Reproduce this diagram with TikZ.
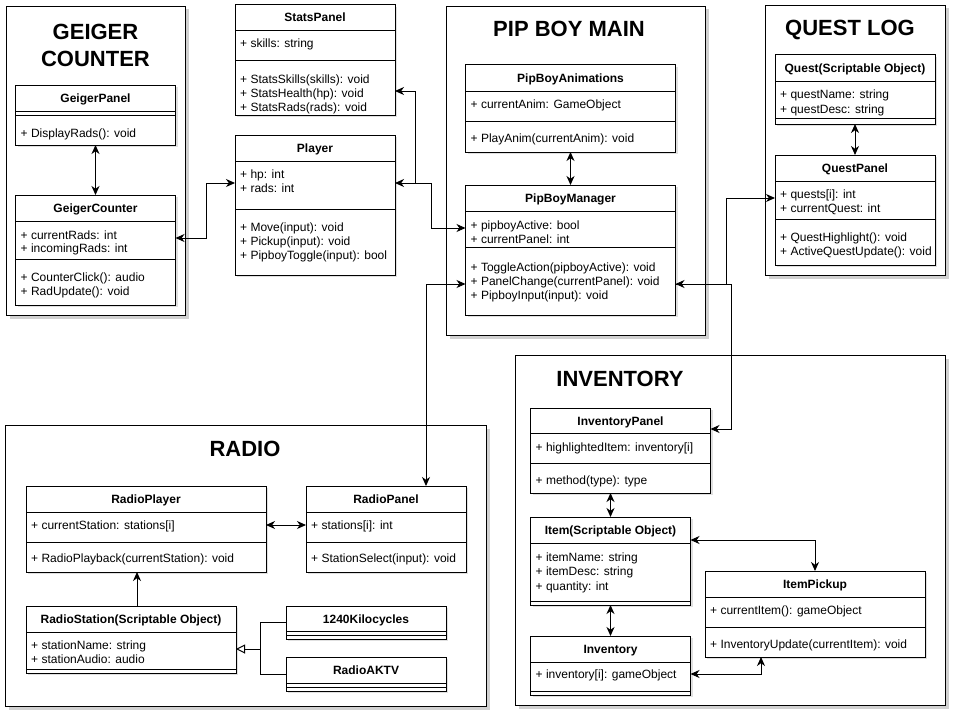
\documentclass[tikz,border=0pt]{standalone}
\usepackage{fontspec}
\setmainfont{Liberation Sans}
\usetikzlibrary{arrows.meta,shadows,calc}
\tikzset{
 cont/.style={draw, fill=white, line width=1pt, anchor=north west, inner sep=0pt,
   drop shadow={shadow xshift=3pt,shadow yshift=-3pt,opacity=0.18,fill=black}},
 cls/.style={draw, fill=white, line width=1pt, anchor=north west, inner sep=0pt, outer sep=0pt,
   drop shadow={shadow xshift=2pt,shadow yshift=-2pt,opacity=0.12,fill=black}},
 txt/.style={anchor=base west, inner sep=0pt, xshift=5pt, font=\fontsize{12}{14}\selectfont},
 hdr/.style={anchor=base, inner sep=0pt, font=\fontsize{12}{14}\selectfont\bfseries},
 ttl/.style={inner sep=0pt, align=center, font=\fontsize{22}{27}\selectfont\bfseries},
 sepl/.style={line width=1pt},
 conn/.style={line width=1pt},
 both/.style={conn, {Stealth[length=9pt,width=8pt,inset=2.8pt]}-{Stealth[length=9pt,width=8pt,inset=2.8pt]}},
 tip/.style={conn, -{Stealth[length=9pt,width=8pt,inset=2.8pt]}},
 inh/.style={conn, -{Triangle[open,length=9pt,width=9pt]}},
}
\newcommand{\umlbox}[5]{\node[cls, minimum width=#4, minimum height=#5] (#1) at (#2,#3) {};}
\newcommand{\umlhdr}[3]{\node[hdr] (#1-h) at (#1.north |- 0,#2) {#3};}
\newcommand{\umlrow}[4]{\node[txt] (#1-#2) at (#1.west |- 0,#3) {#4};}
\newcommand{\umlsep}[2]{\draw[sepl] (#1.west |- 0,#2) -- (#1.east |- 0,#2);}
\begin{document}
\begin{tikzpicture}[x=1pt,y=-1pt]
\useasboundingbox (0,0) rectangle (958,717);
\fill[white] (0,0) rectangle (958,717);

% containers
\node[cont, minimum width=179, minimum height=309] (geigerbox) at (6,6) {};
\node[cont, minimum width=259, minimum height=329] (pipbox) at (446,6) {};
\node[cont, minimum width=180, minimum height=270] (questbox) at (765,5) {};
\node[cont, minimum width=481, minimum height=281] (radiobox) at (5,425) {};
\node[cont, minimum width=430, minimum height=350] (invbox) at (515,355) {};

\node[ttl] (geigert) at (95.5,45) {GEIGER\\COUNTER};
\node[ttl] (pipt) at (569,29) {PIP BOY MAIN};
\node[ttl] (questt) at (850,30) {QUEST LOG};
\node[ttl] (radiot) at (245,449) {RADIO};
\node[ttl] (invt) at (620,379) {INVENTORY};

% GeigerPanel
\umlbox{gp}{15.5}{85}{160}{60}
\umlhdr{gp}{102}{GeigerPanel}
\umlsep{gp}{111}\umlsep{gp}{115}
\umlrow{gp}{m1}{137}{+ DisplayRads(): void}

% GeigerCounter
\umlbox{gc}{15.5}{195}{160}{110}
\umlhdr{gc}{212}{GeigerCounter}
\umlsep{gc}{221}
\umlrow{gc}{a1}{239}{+ currentRads: int}
\umlrow{gc}{a2}{252}{+ incomingRads: int}
\umlsep{gc}{259}
\umlrow{gc}{m1}{281}{+ CounterClick(): audio}
\umlrow{gc}{m2}{295}{+ RadUpdate(): void}

% StatsPanel
\umlbox{sp}{235}{5}{160}{110}
\umlhdr{sp}{22}{StatsPanel}
\umlsep{sp}{31}
\umlrow{sp}{a1}{48}{+ skills: string}
\umlsep{sp}{61}
\umlrow{sp}{m1}{83}{+ StatsSkills(skills): void}
\umlrow{sp}{m2}{97}{+ StatsHealth(hp): void}
\umlrow{sp}{m3}{111}{+ StatsRads(rads): void}

% Player
\umlbox{pl}{235}{135}{160}{140}
\umlhdr{pl}{152}{Player}
\umlsep{pl}{161}
\umlrow{pl}{a1}{178}{+ hp: int}
\umlrow{pl}{a2}{192}{+ rads: int}
\umlsep{pl}{209}
\umlrow{pl}{m1}{231}{+ Move(input): void}
\umlrow{pl}{m2}{245}{+ Pickup(input): void}
\umlrow{pl}{m3}{259}{+ PipboyToggle(input): bool}

% PipBoyAnimations
\umlbox{pa}{465.5}{65}{210}{87}
\umlhdr{pa}{82}{PipBoyAnimations}
\umlsep{pa}{91}
\umlrow{pa}{a1}{108}{+ currentAnim: GameObject}
\umlsep{pa}{121}
\umlrow{pa}{m1}{142}{+ PlayAnim(currentAnim): void}

% PipBoyManager
\umlbox{pm}{465.5}{185}{210}{130}
\umlhdr{pm}{202}{PipBoyManager}
\umlsep{pm}{211}
\umlrow{pm}{a1}{229}{+ pipboyActive: bool}
\umlrow{pm}{a2}{243}{+ currentPanel: int}
\umlsep{pm}{247}
\umlrow{pm}{m1}{271}{+ ToggleAction(pipboyActive): void}
\umlrow{pm}{m2}{285}{+ PanelChange(currentPanel): void}
\umlrow{pm}{m3}{299}{+ PipboyInput(input): void}

% Quest
\umlbox{qo}{775}{55}{160}{69}
\umlhdr{qo}{72}{Quest(Scriptable Object)}
\umlsep{qo}{81}
\umlrow{qo}{a1}{99}{+ questName: string}
\umlrow{qo}{a2}{113}{+ questDesc: string}
\umlsep{qo}{118}

% QuestPanel
\umlbox{qp}{775}{155}{160}{110}
\umlhdr{qp}{172}{QuestPanel}
\umlsep{qp}{181}
\umlrow{qp}{a1}{198}{+ quests[i]: int}
\umlrow{qp}{a2}{212}{+ currentQuest: int}
\umlsep{qp}{219}
\umlrow{qp}{m1}{241}{+ QuestHighlight(): void}
\umlrow{qp}{m2}{255}{+ ActiveQuestUpdate(): void}

% RadioPlayer
\umlbox{rp}{26}{486}{240}{86}
\umlhdr{rp}{503}{RadioPlayer}
\umlsep{rp}{512}
\umlrow{rp}{a1}{529}{+ currentStation: stations[i]}
\umlsep{rp}{542}
\umlrow{rp}{m1}{562}{+ RadioPlayback(currentStation): void}

% RadioPanel
\umlbox{rpn}{306}{486}{160}{86}
\umlhdr{rpn}{503}{RadioPanel}
\umlsep{rpn}{512}
\umlrow{rpn}{a1}{529}{+ stations[i]: int}
\umlsep{rpn}{542}
\umlrow{rpn}{m1}{562}{+ StationSelect(input): void}

% RadioStation
\umlbox{rs}{26}{606}{210}{67}
\umlhdr{rs}{623}{RadioStation(Scriptable Object)}
\umlsep{rs}{632}
\umlrow{rs}{a1}{649}{+ stationName: string}
\umlrow{rs}{a2}{663}{+ stationAudio: audio}
\umlsep{rs}{669}

% 1240Kilocycles
\umlbox{k1}{286}{606}{160}{33}
\umlhdr{k1}{623}{1240Kilocycles}
\umlsep{k1}{631}\umlsep{k1}{635}

% RadioAKTV
\umlbox{ak}{286}{657}{160}{34}
\umlhdr{ak}{674}{RadioAKTV}
\umlsep{ak}{683}\umlsep{ak}{687}

% InventoryPanel
\umlbox{ip}{530.5}{408}{180}{85}
\umlhdr{ip}{425}{InventoryPanel}
\umlsep{ip}{433}
\umlrow{ip}{a1}{451}{+ highlightedItem: inventory[i]}
\umlsep{ip}{463}
\umlrow{ip}{m1}{484}{+ method(type): type}

% Item
\umlbox{it}{530.5}{517}{160}{88}
\umlhdr{it}{534}{Item(Scriptable Object)}
\umlsep{it}{543}
\umlrow{it}{a1}{561}{+ itemName: string}
\umlrow{it}{a2}{575}{+ itemDesc: string}
\umlrow{it}{a3}{590}{+ quantity: int}
\umlsep{it}{601}

% Inventory
\umlbox{inv}{530.5}{636}{160}{59}
\umlhdr{inv}{653}{Inventory}
\umlsep{inv}{662}
\umlrow{inv}{a1}{678}{+ inventory[i]: gameObject}
\umlsep{inv}{691}

% ItemPickup
\umlbox{ipk}{705}{571}{220}{86}
\umlhdr{ipk}{588}{ItemPickup}
\umlsep{ipk}{597}
\umlrow{ipk}{a1}{614}{+ currentItem(): gameObject}
\umlsep{ipk}{627}
\umlrow{ipk}{m1}{648}{+ InventoryUpdate(currentItem): void}

% connectors
\draw[both] (gp.south) -- (gc.north);
\draw[both] (gc.east |- 0,238) -- (206,238) -- (206,183) -- (pl.west |- 0,183);
\draw[both] (pl.east |- 0,183) -- (431,183) -- (431,228) -- (pm.west |- 0,228);
\coordinate (sj) at (415,183);
\draw[tip] (sj) -- (415,91) -- (sp.east |- 0,91);
\draw[both] (pa.south) -- (pm.north);
\draw[both] (pm.west |- 0,284) -- (426,284) -- (rpn.north -| 426,0);
\draw[both] (pm.east |- 0,284) -- (726,284) -- (726,198) -- (qp.west |- 0,198);
\draw[tip] (pm.east |- 0,284) -- (731,284) -- (731,429) -- (ip.east |- 0,429);
\draw[both] (qo.south) -- (qp.north);
\draw[both] (rp.east |- 0,525) -- (rpn.west |- 0,525);
\draw[tip] (rs.north -| 137,0) -- (rp.south -| 137,0);
\draw[inh] (k1.west) -| (260,649) -- (rs.east |- 0,649);
\draw[conn] (ak.west) -| (260,649);
\draw[both] (ip.south -| it.north) -- (it.north);
\draw[both] (it.south) -- (inv.north);
\draw[both] (it.east |- 0,540) -| (ipk.north);
\draw[both] (inv.east |- 0,674) -| (ipk.south -| 761,0);
\end{tikzpicture}
\end{document}
